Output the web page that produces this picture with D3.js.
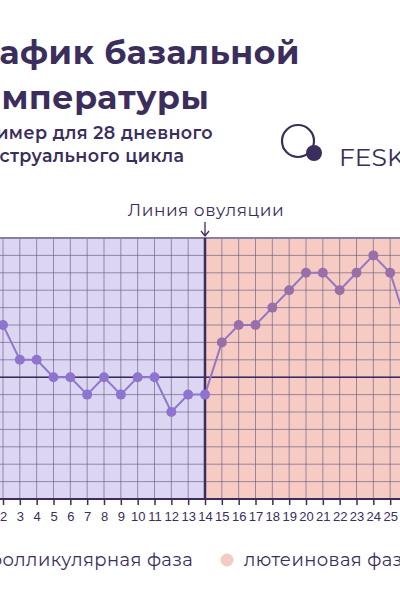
<!DOCTYPE html>
<html><head><meta charset="utf-8">
<script src="https://cdn.jsdelivr.net/npm/d3@7"></script>
<style>body{margin:0;background:#fff}svg{display:block;font-family:Montserrat,Inter,"Noto Sans",sans-serif}</style>
</head><body><div id="chart"></div>
<script>
const WIDTH = 400, HEIGHT = 600;
const days = d3.range(1, 29);
const temps = [37.1, 37.0, 36.8, 36.8, 36.7, 36.7, 36.6, 36.7, 36.6, 36.7, 36.7, 36.5, 36.6, 36.6,
  36.9, 37.0, 37.0, 37.1, 37.2, 37.3, 37.3, 37.2, 37.3, 37.4, 37.3, 37.0, 36.9, 36.8];
const ovulationDay = 14;
const baseline = 36.7;
const legendLabels = ["фолликулярная фаза", "лютеиновая фаза"];
const phaseColors = ["#dcd6f3", "#f6cbc4"];
const ink = "#3b2d5c";

const svg = d3.select("#chart").append("svg").attr("width", WIDTH).attr("height", HEIGHT);

const x = d3.scaleLinear().domain([2, 14]).range([3, 205]);
const y = d3.scaleLinear().domain([36.0, 37.5]).range([499, 238]);
const x0 = x(-1), x1 = x(30);

// phase backgrounds
svg.append("rect").attr("x", x0).attr("y", y(37.5)).attr("width", x(ovulationDay) - x0)
  .attr("height", y(36.0) - y(37.5)).attr("fill", phaseColors[0]);
svg.append("rect").attr("x", x(ovulationDay)).attr("y", y(37.5)).attr("width", x1 - x(ovulationDay))
  .attr("height", y(36.0) - y(37.5)).attr("fill", phaseColors[1]);

// grid
const grid = svg.append("g").attr("stroke", "#5f5478").attr("stroke-opacity", 0.6).attr("stroke-width", 1);
grid.selectAll("line.v").data(d3.range(-1, 31)).enter().append("line")
  .attr("x1", d => x(d)).attr("x2", d => x(d)).attr("y1", y(37.5)).attr("y2", y(36.0));
grid.selectAll("line.h").data(d3.range(36.0, 37.55, 0.1)).enter().append("line")
  .attr("x1", x0).attr("x2", x1).attr("y1", d => y(d)).attr("y2", d => y(d));

svg.append("line").attr("x1", x0).attr("x2", x1).attr("y1", y(37.5)).attr("y2", y(37.5))
  .attr("stroke", "#8a7fa0").attr("stroke-width", 2);
svg.append("line").attr("x1", x0).attr("x2", x1).attr("y1", y(baseline)).attr("y2", y(baseline))
  .attr("stroke", ink).attr("stroke-width", 1.5);
svg.append("line").attr("x1", x(ovulationDay)).attr("x2", x(ovulationDay)).attr("y1", y(37.5)).attr("y2", y(36.0))
  .attr("stroke", ink).attr("stroke-width", 2.5);

// x axis
const xAxis = d3.axisBottom(x).tickValues(days).tickSize(6).tickSizeOuter(0).tickFormat(d3.format("d"));
const ax = svg.append("g").attr("transform", `translate(0,${y(36.0)})`).call(xAxis);
ax.select(".domain").remove();
ax.append("line").attr("x1", x0).attr("x2", x1).attr("stroke", ink).attr("stroke-width", 2);
ax.selectAll(".tick line").attr("stroke", ink).attr("stroke-width", 1.5);
ax.selectAll("text").attr("fill", ink).style("font-size", "13px").attr("dy", "1em");

// line + points
const line = d3.line().x((d, i) => x(days[i])).y(d => y(d));
svg.append("path").datum(temps).attr("d", line).attr("fill", "none")
  .attr("stroke", "#9078c8").attr("stroke-width", 2);
svg.selectAll("circle.pt").data(temps).enter().append("circle")
  .attr("cx", (d, i) => x(days[i])).attr("cy", d => y(d)).attr("r", 5)
  .attr("fill", (d, i) => days[i] <= ovulationDay ? "#8c74cf" : "#9a6fa8");

// titles
const title = svg.append("g").attr("fill", ink).style("font-weight", 700);
title.append("text").attr("x", -42).attr("y", 64).style("font-size", "33px").style("letter-spacing", "0.6px").text("График базальной");
title.append("text").attr("x", -40).attr("y", 109).style("font-size", "33px").style("letter-spacing", "0.6px").text("Температуры");
title.append("text").attr("x", -31).attr("y", 139).style("font-size", "17.5px").style("font-weight", 600).style("letter-spacing", "0.4px").text("Пример для 28 дневного");
title.append("text").attr("x", -39).attr("y", 162).style("font-size", "17.5px").style("font-weight", 600).style("letter-spacing", "0.4px").text("менструального цикла");

// logo
svg.append("circle").attr("cx", 298).attr("cy", 141).attr("r", 16).attr("fill", "none")
  .attr("stroke", ink).attr("stroke-width", 2.2);
svg.append("circle").attr("cx", 314).attr("cy", 153).attr("r", 8).attr("fill", ink);
svg.append("text").attr("x", 339).attr("y", 166).attr("fill", ink).style("font-size", "25px").text("FESK");

// ovulation label + arrow
const ox = x(ovulationDay);
svg.append("text").attr("x", ox + 1).attr("y", 216).attr("text-anchor", "middle")
  .attr("fill", ink).style("font-size", "17px").style("letter-spacing", "0.5px").text("Линия овуляции");
svg.append("path").attr("d", `M${ox},222 V235 M${ox - 4},231 L${ox},236 L${ox + 4},231`)
  .attr("fill", "none").attr("stroke", ink).attr("stroke-width", 1.3);

// legend
const legend = svg.append("g").style("font-size", "18px").style("letter-spacing", "0.4px").attr("fill", ink);
legend.append("circle").attr("cx", -26).attr("cy", 560).attr("r", 6).attr("fill", "#cbc2ee");
legend.append("text").attr("x", -12).attr("y", 566).text(legendLabels[0]);
legend.append("circle").attr("cx", 227).attr("cy", 560).attr("r", 6.5).attr("fill", phaseColors[1]);
legend.append("text").attr("x", 244).attr("y", 566).text(legendLabels[1]);
</script></body></html>
